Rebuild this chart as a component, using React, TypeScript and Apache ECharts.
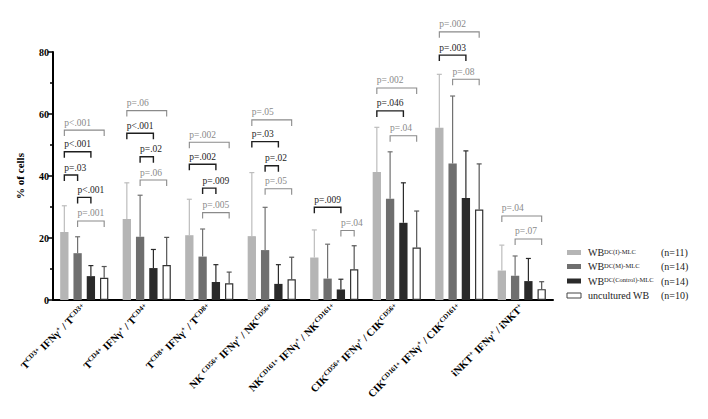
import React, { useEffect, useRef } from 'react';
import * as echarts from 'echarts';

// Category labels: [normal text, superscript] pairs
const categoryParts: [string, string][][] = [
  [['T', 'CD3+'], [' IFNγ', '+'], [' / T', 'CD3+']],
  [['T', 'CD4+'], [' IFNγ', '+'], [' / T', 'CD4+']],
  [['T', 'CD8+'], [' IFNγ', '+'], [' / T', 'CD8+']],
  [['NK ', 'CD56+'], [' IFNγ', '+'], [' / NK', 'CD56+']],
  [['NK', 'CD161+'], [' IFNγ', '+'], [' / NK', 'CD161+']],
  [['CIK', 'CD56+'], [' IFNγ', '+'], [' / CIK', 'CD56+']],
  [['CIK', 'CD161+'], [' IFNγ', '+'], [' / CIK', 'CD161+']],
  [['iNKT', '+'], [' IFNγ', '+'], [' / iNKT', '+']],
];
const categories = categoryParts.map((p) => p.map(([a, b]) => a + b).join(''));

const wbI = [21.9, 26.1, 20.9, 20.6, 13.7, 41.3, 55.6, 9.5];
const wbISd = [8.5, 11.7, 11.6, 20.5, 8.9, 14.4, 17.2, 8.2];
const wbM = [15.1, 20.4, 14.0, 16.1, 6.9, 32.7, 44.0, 7.8];
const wbMSd = [5.3, 13.4, 8.9, 13.8, 11.1, 15.1, 21.8, 6.4];
const wbC = [7.7, 10.3, 5.8, 5.2, 3.4, 24.9, 32.9, 6.1];
const wbCSd = [3.4, 6.0, 5.6, 6.2, 3.3, 12.9, 15.2, 7.3];
const unc = [7.2, 11.3, 5.4, 6.7, 9.9, 16.9, 29.2, 3.5];
const uncSd = [3.6, 8.9, 3.6, 7.1, 7.6, 11.8, 14.7, 2.4];

const yTicks = [0, 20, 40, 60, 80];

const legendSup = ['DC(I)-MLC', 'DC(M)-MLC', 'DC(Control)-MLC', ''];
const legendMain = ['WB', 'WB', 'WB', 'uncultured WB'];
const legendN = ['(n=11)', '(n=14)', '(n=14)', '(n=10)'];

// significance brackets: category, from bar, to bar, y level, label
const bracketCat = [0, 0, 0, 0, 0, 1, 1, 1, 1, 2, 2, 2, 2, 3, 3, 3, 3, 4, 4, 5, 5, 5, 6, 6, 6, 7, 7];
const bracketFrom = [0, 0, 0, 1, 1, 0, 0, 1, 1, 0, 0, 1, 1, 0, 0, 1, 1, 0, 2, 0, 0, 1, 0, 0, 1, 0, 1];
const bracketTo = [3, 2, 1, 2, 3, 3, 2, 2, 3, 3, 2, 2, 3, 3, 2, 2, 3, 2, 3, 3, 2, 3, 3, 2, 3, 3, 3];
const bracketY = [54.8, 47.8, 40.3, 33.1, 25.5, 61.1, 53.8, 46.2, 38.7, 50.9, 43.8, 36.1, 28.2, 58.1, 51.1, 43.3, 35.9, 29.9, 22.4, 68.4, 61.0, 53.0, 86.5, 79.0, 71.2, 27.1, 19.7];
const bracketLabel = ['p<.001', 'p<.001', 'p=.03', 'p<.001', 'p=.001', 'p=.06', 'p<.001', 'p=.02', 'p=.06', 'p=.002', 'p=.002', 'p=.009', 'p=.005', 'p=.05', 'p=.03', 'p=.02', 'p=.05', 'p=.009', 'p=.04', 'p=.002', 'p=.046', 'p=.04', 'p=.002', 'p=.003', 'p=.08', 'p=.04', 'p=.07'];

const FONT = '"Liberation Serif", "Times New Roman", serif';
const BAR_W = 8.3;
const GAP = 0.6;
const STEP = BAR_W * (1 + GAP);

const barColors = ['#b5b5b5', '#6f6f6f', '#2a2a2a', '#ffffff'];
const whiskerColors = ['#bdbdbd', '#707070', '#2a2a2a', '#555555'];

export default function App() {
  const ref = useRef<HTMLDivElement>(null);
  useEffect(() => {
    if (!ref.current) return;
    const chart = echarts.init(ref.current, undefined, { renderer: 'svg' });
    const means = [wbI, wbM, wbC, unc];
    const sds = [wbISd, wbMSd, wbCSd, uncSd];
    const names = ['WB DC(I)-MLC', 'WB DC(M)-MLC', 'WB DC(Control)-MLC', 'uncultured WB'];

    const barSeries = means.map((m, i) => ({
      type: 'bar',
      name: names[i],
      data: m,
      barWidth: BAR_W,
      barGap: GAP * 100 + '%',
      itemStyle: {
        color: barColors[i],
        borderColor: i === 3 ? '#333' : undefined,
        borderWidth: i === 3 ? 1.2 : 0,
      },
      z: 3,
    }));

    const errSeries = means.map((m, i) => ({
      type: 'custom',
      clip: false,
      z: 2,
      data: m.map((v, k) => [k, v, sds[i][k]]),
      encode: { x: 0, y: 1 },
      renderItem: (params: any, api: any) => {
        const x = api.value(0);
        const v = api.value(1);
        const sd = api.value(2);
        const base = api.coord([x, v]);
        const top = api.coord([x, v + sd]);
        const cx = base[0] + (i - 1.5) * STEP;
        const c = whiskerColors[i];
        return {
          type: 'group',
          children: [
            { type: 'line', shape: { x1: cx, y1: base[1], x2: cx, y2: top[1] }, style: { stroke: c, lineWidth: 1.2 } },
            { type: 'line', shape: { x1: cx - 2.5, y1: top[1], x2: cx + 2.5, y2: top[1] }, style: { stroke: c, lineWidth: 1.2 } },
          ],
        };
      },
    }));

    const bracketSeries = {
      type: 'custom',
      clip: false,
      z: 5,
      data: bracketCat.map((c, k) => [c, bracketY[k]]),
      encode: { x: 0, y: 1 },
      renderItem: (params: any, api: any) => {
        const k = params.dataIndex;
        const p = api.coord([bracketCat[k], bracketY[k]]);
        const x1 = p[0] + (bracketFrom[k] - 1.5) * STEP;
        const x2 = p[0] + (bracketTo[k] - 1.5) * STEP;
        const y = p[1];
        const dark = bracketTo[k] !== 3;
        const c = dark ? '#1e1e1e' : '#8a8a8a';
        return {
          type: 'group',
          children: [
            {
              type: 'polyline',
              shape: { points: [[x1, y + 6], [x1, y], [x2, y], [x2, y + 6]] },
              style: { stroke: c, lineWidth: dark ? 1.4 : 1.1, fill: null },
            },
            {
              type: 'text',
              style: {
                text: bracketLabel[k],
                x: x1,
                y: y - 2.5,
                align: 'left',
                verticalAlign: 'bottom',
                fill: c,
                fontSize: 9.5,
                fontFamily: FONT,
              },
            },
          ],
        };
      },
    };

    const rowsY = [252.5, 266.5, 281, 295.5];
    const graphic: any[] = [];
    rowsY.forEach((ry, i) => {
      graphic.push({
        type: 'rect',
        shape: { x: 567, y: ry - 2.5, width: 14, height: 5 },
        style: { fill: barColors[i], stroke: i === 3 ? '#444' : undefined, lineWidth: i === 3 ? 1 : 0 },
      });
      graphic.push({
        type: 'text',
        x: 588,
        y: ry,
        style: {
          text: legendSup[i] ? `{a|${legendMain[i]}}{b|${legendSup[i]}}` : `{a|${legendMain[i]}}`,
          verticalAlign: 'middle',
          rich: {
            a: { fontSize: 10, fontFamily: FONT, fill: '#222' },
            b: { fontSize: 6.5, fontFamily: FONT, fill: '#222', verticalAlign: 'top' },
          },
        },
      });
      graphic.push({
        type: 'text',
        x: 661,
        y: ry,
        style: { text: legendN[i], verticalAlign: 'middle', fontSize: 10, fontFamily: FONT, fill: '#222' },
      });
    });

    chart.setOption({
      animation: false,
      backgroundColor: '#ffffff',
      grid: { left: 53, right: 155, top: 52, bottom: 119, containLabel: false },
      xAxis: {
        type: 'category',
        data: categories,
        axisLine: { lineStyle: { color: '#000', width: 2 } },
        axisTick: { alignWithLabel: true, length: 5, lineStyle: { color: '#000', width: 2 } },
        axisLabel: {
          interval: 0,
          rotate: 45,
          margin: 6,
          formatter: (_v: string, idx: number) =>
            categoryParts[idx].map(([a, b]) => `{n|${a}}{s|${b}}`).join(''),
          rich: {
            n: { fontSize: 10.5, fontWeight: 'bold', fontFamily: FONT, color: '#000' },
            s: { fontSize: 7, fontWeight: 'bold', fontFamily: FONT, color: '#000', verticalAlign: 'top' },
          },
        },
      },
      yAxis: {
        type: 'value',
        min: yTicks[0],
        max: yTicks[yTicks.length - 1],
        interval: 20,
        name: '% of cells',
        nameLocation: 'middle',
        nameGap: 28,
        nameTextStyle: { fontSize: 11, fontWeight: 'bold', fontFamily: FONT, color: '#000' },
        axisLine: { show: true, lineStyle: { color: '#000', width: 2 } },
        axisTick: { show: true, length: 5, lineStyle: { color: '#000', width: 1.5 } },
        minorTick: { show: true, splitNumber: 2, length: 3, lineStyle: { color: '#000', width: 1.5 } },
        splitLine: { show: false },
        axisLabel: { fontSize: 10, fontWeight: 'bold', fontFamily: FONT, color: '#000', margin: 4 },
      },
      graphic,
      series: [...barSeries, ...errSeries, bracketSeries],
    });
    return () => chart.dispose();
  }, []);
  return <div ref={ref} style={{ position: 'fixed', left: 0, top: 0, width: 708, height: 419 }} />;
}
